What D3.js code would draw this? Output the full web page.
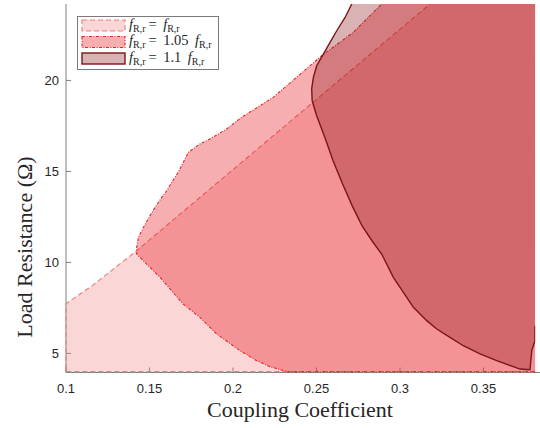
<!DOCTYPE html>
<html lang="en">
	<head>
		<meta charset="utf-8">
		<title>Load resistance regions</title>
		<script src="https://d3js.org/d3.v7.min.js"></script>
		<style>
			body { margin: 0; background: #fff; }
		</style>
	</head>
	<body>
		<div id="my_dataviz"></div>
		<script>
// tick values
var xTicks = [0.1, 0.15, 0.2, 0.25, 0.3, 0.35]
var yTicks = [5, 10, 15, 20]

// boundary of region f = f (open outline, bottom right -> top)
var k1 = [0.381, 0.1, 0.1, 0.116, 0.142, 0.240, 0.318]
var r1 = [4, 4, 7.73, 8.74, 10.62, 18.19, 24.2]

// boundary of region f = 1.05 f
var k2 = [0.381, 0.2322, 0.2222, 0.2142, 0.2042, 0.1902, 0.1802, 0.1702, 0.1563, 0.1483, 0.1423,
          0.1423, 0.1433, 0.1463, 0.1503, 0.1533, 0.1573, 0.1603, 0.1633, 0.1672, 0.1702, 0.1732,
          0.1802, 0.1862, 0.1962, 0.2051, 0.2241, 0.2531, 0.2720, 0.2890]
var r2 = [4, 4, 4.27, 4.60, 5.15, 6.07, 6.98, 7.71, 9.18, 9.91, 10.46,
          10.82, 11.37, 11.92, 12.57, 13.02, 13.57, 13.94, 14.40, 14.95, 15.49, 16.04,
          16.51, 16.78, 17.33, 17.97, 19.07, 21.36, 22.64, 24.2]

// boundary of region f = 1.1 f
var k3 = [0.2711, 0.2671, 0.2621, 0.2581, 0.2541, 0.2501, 0.2481, 0.2471, 0.2474, 0.2501, 0.2531,
          0.2557, 0.2599, 0.2653, 0.2713, 0.2772, 0.2832, 0.2890, 0.2960, 0.3020, 0.3080, 0.3160,
          0.3220, 0.3299, 0.3379, 0.3479, 0.3579, 0.3719, 0.3778, 0.3789, 0.3808, 0.3808]
var r3 = [24.2, 23.46, 22.73, 22.09, 21.45, 20.81, 20.16, 19.54, 18.88, 18.06, 17.33,
          16.69, 15.59, 14.38, 13.12, 12.02, 11.19, 10.46, 9.18, 8.35, 7.53, 6.80,
          6.34, 5.88, 5.42, 4.97, 4.60, 4.14, 4.10, 5.15, 5.70, 6.52]

// legend middle parts: f_R,r <name> f_R,r
var seriesNames = ["\u2009=\u2009 ", "\u2009=\u2009 1.05\u2009 ", "\u2009=\u2009 1.1\u2009 "]

var width = 540, height = 428

var svg = d3.select("#my_dataviz")
  .append("svg")
    .attr("width", width)
    .attr("height", height)

var x = d3.scaleLinear().domain([0.1, 0.381]).range([66, 535.3])
var y = d3.scaleLinear().domain([3.95, 24.2]).range([372.5, 4])

var axisColor = "#808080"
var textColor = "#262626"

// axes lines (box off, left and bottom only)
svg.append("line")
  .attr("x1", x(0.1)).attr("x2", x(0.1))
  .attr("y1", y(24.2)).attr("y2", y(3.95))
  .attr("stroke", axisColor)
svg.append("line")
  .attr("x1", x(0.1)).attr("x2", 540)
  .attr("y1", y(3.95)).attr("y2", y(3.95))
  .attr("stroke", axisColor)

// inward ticks
svg.selectAll(".xtick")
  .data(xTicks)
  .join("line")
    .attr("x1", d => x(d)).attr("x2", d => x(d))
    .attr("y1", y(3.95)).attr("y2", y(3.95) - 5)
    .attr("stroke", axisColor)
svg.selectAll(".ytick")
  .data(yTicks)
  .join("line")
    .attr("x1", x(0.1)).attr("x2", x(0.1) + 5)
    .attr("y1", d => y(d)).attr("y2", d => y(d))
    .attr("stroke", axisColor)

svg.selectAll(".xlab")
  .data(xTicks)
  .join("text")
    .attr("x", d => x(d))
    .attr("y", 393)
    .attr("text-anchor", "middle")
    .attr("font-family", "Liberation Sans, Arial, sans-serif")
    .attr("font-size", 13)
    .attr("fill", textColor)
    .text(d => d)
svg.selectAll(".ylab")
  .data(yTicks)
  .join("text")
    .attr("x", 59)
    .attr("y", d => y(d) + 5)
    .attr("text-anchor", "end")
    .attr("font-family", "Liberation Sans, Arial, sans-serif")
    .attr("font-size", 13)
    .attr("fill", textColor)
    .text(d => d)

// axis titles
svg.append("text")
  .attr("x", 300)
  .attr("y", 417)
  .attr("text-anchor", "middle")
  .attr("font-family", "Liberation Serif, serif")
  .attr("font-size", 22)
  .attr("fill", textColor)
  .text("Coupling Coefficient")
svg.append("text")
  .attr("transform", "translate(32, 247) rotate(-90)")
  .attr("text-anchor", "middle")
  .attr("font-family", "Liberation Serif, serif")
  .attr("font-size", 22)
  .attr("fill", textColor)
  .text("Load Resistance (\u03A9)")

// regions: fill, then outline
var styles = [
  {fill: "#f08080", op: 0.32, stroke: "#ef7b7b", dash: "5,3", sw: 1.1},
  {fill: "#e5121a", op: 0.34, stroke: "#e8262a", dash: "3,1.5,1,1.5", sw: 1.1},
  {fill: "#8a0e14", op: 0.32, stroke: "#7d1518", dash: null, sw: 1.4}
]
var regions = [[k1, r1], [k2, r2], [k3, r3]]

var clip = svg.append("clipPath").attr("id", "plotclip")
clip.append("rect").attr("x", 0).attr("y", y(24.2)).attr("width", x(0.381)).attr("height", y(3.95) - y(24.2) + 2)

var line = d3.line().x(d => x(d[0])).y(d => y(d[1]))
var plot = svg.append("g").attr("clip-path", "url(#plotclip)")

regions.forEach(function(reg, i) {
  var pts = reg[0].map((k, j) => [k, reg[1][j]])
  var poly = pts.concat([[0.381, 24.2]])
  plot.append("path")
    .attr("d", line(poly) + "Z")
    .attr("fill", styles[i].fill)
    .attr("fill-opacity", styles[i].op)
    .attr("stroke", "none")
  plot.append("path")
    .attr("d", line(pts))
    .attr("fill", "none")
    .attr("stroke", styles[i].stroke)
    .attr("stroke-width", styles[i].sw)
    .attr("stroke-dasharray", styles[i].dash)
})

// legend
var legend = svg.append("g")
legend.append("rect")
  .attr("x", 77.5).attr("y", 16.5)
  .attr("width", 141).attr("height", 53)
  .attr("fill", "white")
  .attr("stroke", "#7a7a7a")

seriesNames.forEach(function(name, i) {
  var cy = 25.5 + i * 16.5
  legend.append("rect")
    .attr("x", 82).attr("y", cy - 5.5)
    .attr("width", 43).attr("height", 11)
    .attr("fill", styles[i].fill)
    .attr("fill-opacity", styles[i].op)
    .attr("stroke", styles[i].stroke)
    .attr("stroke-width", styles[i].sw)
    .attr("stroke-dasharray", styles[i].dash)
  var t = legend.append("text")
    .attr("x", 129)
    .attr("y", cy + 3)
    .attr("font-family", "Liberation Serif, serif")
    .attr("font-size", 14.5)
    .attr("fill", textColor)
    .attr("xml:space", "preserve")
  t.append("tspan").attr("font-style", "italic").text("f")
  t.append("tspan").attr("font-size", 10).attr("dy", 3).text("R,r")
  t.append("tspan").attr("dy", -3).text(name)
  t.append("tspan").attr("font-style", "italic").text("f")
  t.append("tspan").attr("font-size", 10).attr("dy", 3).text("R,r")
})
		</script>
	</body>
</html>
